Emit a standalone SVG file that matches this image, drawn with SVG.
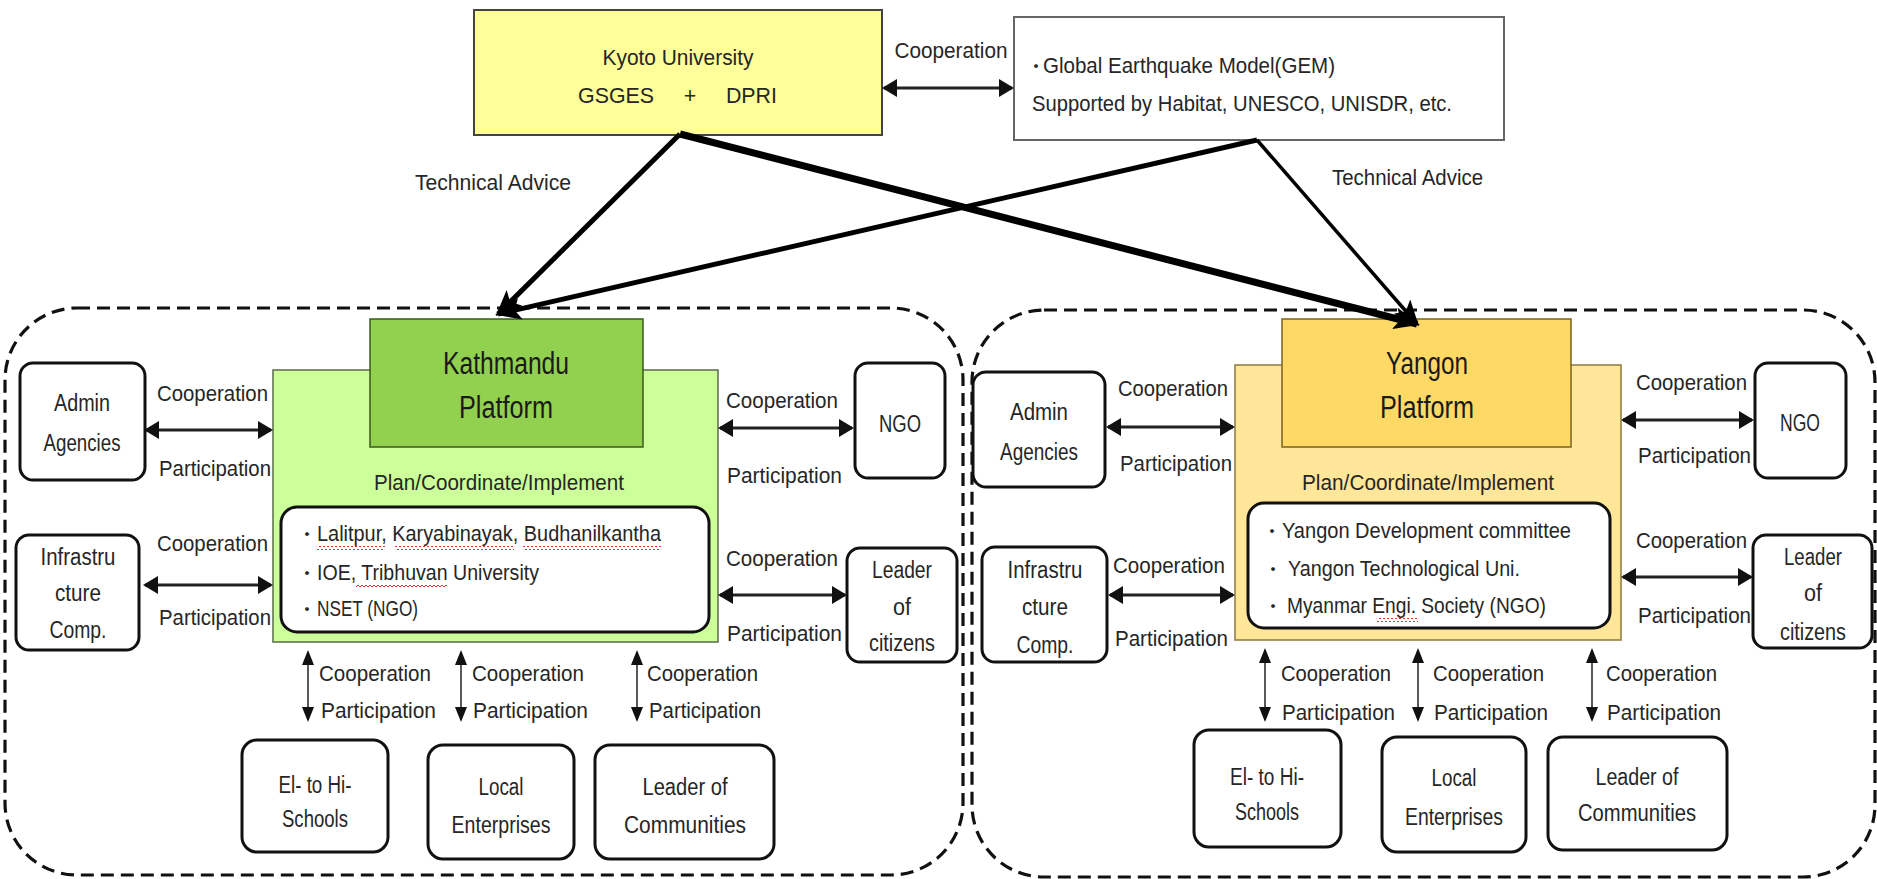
<svg xmlns="http://www.w3.org/2000/svg" width="1877" height="879" viewBox="0 0 1877 879">
<style>
.t{font-family:"Liberation Sans Narrow","Liberation Sans",Arial,"Noto Sans CJK JP",sans-serif;font-size:22px;fill:#262626;dominant-baseline:central}
.m{text-anchor:middle}
.n{font-size:23px}
.h{font-size:31px;fill:#1a1a1a}
.b{font-family:"Noto Sans CJK JP",sans-serif;font-size:18px;fill:#262626;dominant-baseline:central;text-anchor:middle}
.node{fill:#fff;stroke:#111;stroke-width:3}
.dash{fill:none;stroke:#111;stroke-width:3.2;stroke-dasharray:13 7}
.ha{stroke:#222;stroke-width:3;fill:none;marker-start:url(#hh);marker-end:url(#hh)}
.va{stroke:#222;stroke-width:1.5;fill:none;marker-start:url(#vh);marker-end:url(#vh)}
.big{stroke:#000;fill:none;marker-end:url(#bh)}
.sq{fill:url(#sq)}
</style>
<defs>
<marker id="hh" markerUnits="userSpaceOnUse" markerWidth="15" markerHeight="18" refX="13" refY="9" orient="auto-start-reverse"><path d="M0,0 L15,9 L0,18 z" fill="#111"/></marker>
<marker id="vh" markerUnits="userSpaceOnUse" markerWidth="15" markerHeight="12" refX="13" refY="6" orient="auto-start-reverse"><path d="M0,0 L15,6 L0,12 z" fill="#111"/></marker>
<marker id="bh" markerUnits="userSpaceOnUse" markerWidth="26" markerHeight="22" refX="23" refY="11" orient="auto"><path d="M0,0 L26,11 L0,22 L6,11 z" fill="#000"/></marker>
<pattern id="sq" width="4" height="4" patternUnits="userSpaceOnUse"><path d="M0,3 L2,1 L4,3" fill="none" stroke="#e03030" stroke-width="1"/></pattern>
</defs>
<rect width="1877" height="879" fill="#fff"/>

<g id="group-kathmandu-area"><rect class="dash" x="5" y="308" width="958" height="567" rx="72"/></g>
<g id="group-yangon-area"><rect class="dash" x="972" y="310" width="903" height="567" rx="72"/></g>

<g id="kyoto">
<rect x="474" y="10" width="408" height="125" fill="#FFFF99" stroke="#444" stroke-width="2"/>
<text class="t m" x="678" y="57" textLength="151" lengthAdjust="spacingAndGlyphs">Kyoto University</text>
<text class="t" x="578" y="95" textLength="199" lengthAdjust="spacingAndGlyphs" xml:space="preserve">GSGES     +     DPRI</text>
</g>

<g id="gem">
<rect x="1014" y="17" width="490" height="123" fill="#fff" stroke="#666" stroke-width="2"/>
<text class="b" x="1036" y="65">・</text>
<text class="t" x="1043" y="65" textLength="292" lengthAdjust="spacingAndGlyphs">Global Earthquake Model(GEM)</text>
<text class="t" x="1032" y="103" textLength="420" lengthAdjust="spacingAndGlyphs">Supported by Habitat, UNESCO, UNISDR, etc.</text>
</g>

<g id="kathmandu-platform">
<rect x="273" y="370" width="445" height="272" fill="#CCFF99" stroke="#5b6b4a" stroke-width="1.5"/>
<rect x="370" y="319" width="273" height="128" fill="#92D050" stroke="#3d5a1f" stroke-width="1.5"/>
<text class="t m h" x="506" y="363" textLength="126" lengthAdjust="spacingAndGlyphs">Kathmandu</text>
<text class="t m h" x="506" y="407" textLength="94" lengthAdjust="spacingAndGlyphs">Platform</text>
<text class="t m" x="499" y="482" textLength="250" lengthAdjust="spacingAndGlyphs">Plan/Coordinate/Implement</text>
<rect class="node" x="281" y="507" width="428" height="125" rx="16"/>
<text class="b" x="307" y="533">・</text>
<text class="t" x="317" y="533" textLength="344" lengthAdjust="spacingAndGlyphs">Lalitpur, Karyabinayak, Budhanilkantha</text>
<text class="b" x="307" y="572">・</text>
<text class="t" x="317" y="572" textLength="222" lengthAdjust="spacingAndGlyphs">IOE, Tribhuvan University</text>
<text class="b" x="307" y="608">・</text>
<text class="t" x="317" y="608" textLength="101" lengthAdjust="spacingAndGlyphs">NSET (NGO)</text>
<rect class="sq" x="317" y="546" width="68" height="4"/>
<rect class="sq" x="395" y="546" width="119" height="4"/>
<rect class="sq" x="523" y="546" width="138" height="4"/>
<rect class="sq" x="356" y="585" width="91" height="4"/>
</g>

<g id="yangon-platform">
<rect x="1235" y="365" width="386" height="275" fill="#FFE699" stroke="#8a7a40" stroke-width="1.5"/>
<rect x="1282" y="319" width="289" height="128" fill="#FFD966" stroke="#7a6220" stroke-width="1.5"/>
<text class="t m h" x="1427" y="363" textLength="82" lengthAdjust="spacingAndGlyphs">Yangon</text>
<text class="t m h" x="1427" y="407" textLength="94" lengthAdjust="spacingAndGlyphs">Platform</text>
<text class="t m" x="1428" y="482" textLength="252" lengthAdjust="spacingAndGlyphs">Plan/Coordinate/Implement</text>
<rect class="node" x="1248" y="503" width="362" height="125" rx="16"/>
<text class="b" x="1272" y="530">・</text>
<text class="t" x="1282" y="530" textLength="289" lengthAdjust="spacingAndGlyphs">Yangon Development committee</text>
<text class="b" x="1273" y="568">・</text>
<text class="t" x="1288" y="568" textLength="232" lengthAdjust="spacingAndGlyphs">Yangon Technological Uni.</text>
<text class="b" x="1273" y="605">・</text>
<text class="t" x="1287" y="605" textLength="259" lengthAdjust="spacingAndGlyphs">Myanmar Engi. Society (NGO)</text>
<rect class="sq" x="1377" y="618" width="41" height="4"/>
</g>

<g id="k-admin"><rect class="node" x="20" y="363" width="125" height="117" rx="13"/>
<text class="t m n" x="82" y="403" textLength="56" lengthAdjust="spacingAndGlyphs">Admin</text>
<text class="t m n" x="82" y="443" textLength="77" lengthAdjust="spacingAndGlyphs">Agencies</text></g>
<g id="k-infra"><rect class="node" x="16" y="535" width="123" height="115" rx="13"/>
<text class="t m n" x="78" y="557" textLength="75" lengthAdjust="spacingAndGlyphs">Infrastru</text>
<text class="t m n" x="78" y="593" textLength="46" lengthAdjust="spacingAndGlyphs">cture</text>
<text class="t m n" x="78" y="630" textLength="57" lengthAdjust="spacingAndGlyphs">Comp.</text></g>
<g id="k-ngo"><rect class="node" x="855" y="363" width="90" height="115" rx="13"/>
<text class="t m n" x="900" y="424" textLength="42" lengthAdjust="spacingAndGlyphs">NGO</text></g>
<g id="k-leader-citizens"><rect class="node" x="847" y="548" width="110" height="114" rx="13"/>
<text class="t m n" x="902" y="570" textLength="60" lengthAdjust="spacingAndGlyphs">Leader</text>
<text class="t m n" x="902" y="607" textLength="18" lengthAdjust="spacingAndGlyphs">of</text>
<text class="t m n" x="902" y="643" textLength="66" lengthAdjust="spacingAndGlyphs">citizens</text></g>
<g id="k-schools"><rect class="node" x="242" y="740" width="146" height="112" rx="15"/>
<text class="t m n" x="315" y="785" textLength="73" lengthAdjust="spacingAndGlyphs">El- to Hi-</text>
<text class="t m n" x="315" y="819" textLength="66" lengthAdjust="spacingAndGlyphs">Schools</text></g>
<g id="k-local"><rect class="node" x="428" y="745" width="146" height="114" rx="15"/>
<text class="t m n" x="501" y="787" textLength="45" lengthAdjust="spacingAndGlyphs">Local</text>
<text class="t m n" x="501" y="825" textLength="99" lengthAdjust="spacingAndGlyphs">Enterprises</text></g>
<g id="k-communities"><rect class="node" x="595" y="745" width="179" height="114" rx="15"/>
<text class="t m n" x="685" y="787" textLength="85" lengthAdjust="spacingAndGlyphs">Leader of</text>
<text class="t m n" x="685" y="825" textLength="122" lengthAdjust="spacingAndGlyphs">Communities</text></g>

<g id="y-admin"><rect class="node" x="973" y="372" width="132" height="115" rx="13"/>
<text class="t m n" x="1039" y="412" textLength="58" lengthAdjust="spacingAndGlyphs">Admin</text>
<text class="t m n" x="1039" y="452" textLength="78" lengthAdjust="spacingAndGlyphs">Agencies</text></g>
<g id="y-infra"><rect class="node" x="982" y="547" width="125" height="115" rx="13"/>
<text class="t m n" x="1045" y="570" textLength="75" lengthAdjust="spacingAndGlyphs">Infrastru</text>
<text class="t m n" x="1045" y="607" textLength="46" lengthAdjust="spacingAndGlyphs">cture</text>
<text class="t m n" x="1045" y="645" textLength="57" lengthAdjust="spacingAndGlyphs">Comp.</text></g>
<g id="y-ngo"><rect class="node" x="1755" y="363" width="91" height="115" rx="13"/>
<text class="t m n" x="1800" y="423" textLength="40" lengthAdjust="spacingAndGlyphs">NGO</text></g>
<g id="y-leader-citizens"><rect class="node" x="1753" y="535" width="119" height="113" rx="13"/>
<text class="t m n" x="1813" y="557" textLength="58" lengthAdjust="spacingAndGlyphs">Leader</text>
<text class="t m n" x="1813" y="593" textLength="18" lengthAdjust="spacingAndGlyphs">of</text>
<text class="t m n" x="1813" y="632" textLength="66" lengthAdjust="spacingAndGlyphs">citizens</text></g>
<g id="y-schools"><rect class="node" x="1194" y="730" width="147" height="117" rx="15"/>
<text class="t m n" x="1267" y="777" textLength="74" lengthAdjust="spacingAndGlyphs">El- to Hi-</text>
<text class="t m n" x="1267" y="812" textLength="64" lengthAdjust="spacingAndGlyphs">Schools</text></g>
<g id="y-local"><rect class="node" x="1382" y="737" width="144" height="115" rx="15"/>
<text class="t m n" x="1454" y="778" textLength="45" lengthAdjust="spacingAndGlyphs">Local</text>
<text class="t m n" x="1454" y="817" textLength="98" lengthAdjust="spacingAndGlyphs">Enterprises</text></g>
<g id="y-communities"><rect class="node" x="1548" y="737" width="179" height="113" rx="15"/>
<text class="t m n" x="1637" y="777" textLength="83" lengthAdjust="spacingAndGlyphs">Leader of</text>
<text class="t m n" x="1637" y="813" textLength="118" lengthAdjust="spacingAndGlyphs">Communities</text></g>

<g id="connectors">
<line class="ha" x1="884" y1="88" x2="1012" y2="88"/>
<path class="big" stroke-width="7" d="M680,134 L1417,324"/>
<path class="big" stroke-width="5" d="M680,134 L498,314"/>
<path class="big" stroke-width="5" d="M1257,140 L498,314"/>
<path class="big" stroke-width="3.5" d="M1257,140 L1417,324"/>

<line class="ha" x1="146" y1="430" x2="271" y2="430"/>
<line class="ha" x1="145" y1="585" x2="271" y2="585"/>
<line class="ha" x1="720" y1="428" x2="852" y2="428"/>
<line class="ha" x1="720" y1="595" x2="845" y2="595"/>
<line class="va" x1="308" y1="652" x2="308" y2="720"/>
<line class="va" x1="461" y1="652" x2="461" y2="720"/>
<line class="va" x1="637" y1="652" x2="637" y2="720"/>

<line class="ha" x1="1108" y1="427" x2="1233" y2="427"/>
<line class="ha" x1="1110" y1="595" x2="1233" y2="595"/>
<line class="ha" x1="1623" y1="420" x2="1752" y2="420"/>
<line class="ha" x1="1623" y1="577" x2="1751" y2="577"/>
<line class="va" x1="1265" y1="650" x2="1265" y2="720"/>
<line class="va" x1="1418" y1="650" x2="1418" y2="720"/>
<line class="va" x1="1592" y1="650" x2="1592" y2="720"/>
</g>

<g id="labels">
<text class="t m" x="951" y="50" textLength="113" lengthAdjust="spacingAndGlyphs">Cooperation</text>
<text class="t" x="415" y="182" textLength="156" lengthAdjust="spacingAndGlyphs">Technical Advice</text>
<text class="t" x="1332" y="177" textLength="151" lengthAdjust="spacingAndGlyphs">Technical Advice</text>

<text class="t" x="157" y="393" textLength="111" lengthAdjust="spacingAndGlyphs">Cooperation</text>
<text class="t" x="159" y="468" textLength="112" lengthAdjust="spacingAndGlyphs">Participation</text>
<text class="t" x="157" y="543" textLength="111" lengthAdjust="spacingAndGlyphs">Cooperation</text>
<text class="t" x="159" y="617" textLength="112" lengthAdjust="spacingAndGlyphs">Participation</text>
<text class="t" x="726" y="400" textLength="112" lengthAdjust="spacingAndGlyphs">Cooperation</text>
<text class="t" x="727" y="475" textLength="115" lengthAdjust="spacingAndGlyphs">Participation</text>
<text class="t" x="726" y="558" textLength="112" lengthAdjust="spacingAndGlyphs">Cooperation</text>
<text class="t" x="727" y="633" textLength="115" lengthAdjust="spacingAndGlyphs">Participation</text>
<text class="t" x="319" y="673" textLength="112" lengthAdjust="spacingAndGlyphs">Cooperation</text>
<text class="t" x="321" y="710" textLength="115" lengthAdjust="spacingAndGlyphs">Participation</text>
<text class="t" x="472" y="673" textLength="112" lengthAdjust="spacingAndGlyphs">Cooperation</text>
<text class="t" x="473" y="710" textLength="115" lengthAdjust="spacingAndGlyphs">Participation</text>
<text class="t" x="647" y="673" textLength="111" lengthAdjust="spacingAndGlyphs">Cooperation</text>
<text class="t" x="649" y="710" textLength="112" lengthAdjust="spacingAndGlyphs">Participation</text>

<text class="t" x="1118" y="388" textLength="110" lengthAdjust="spacingAndGlyphs">Cooperation</text>
<text class="t" x="1120" y="463" textLength="112" lengthAdjust="spacingAndGlyphs">Participation</text>
<text class="t" x="1113" y="565" textLength="112" lengthAdjust="spacingAndGlyphs">Cooperation</text>
<text class="t" x="1115" y="638" textLength="113" lengthAdjust="spacingAndGlyphs">Participation</text>
<text class="t" x="1636" y="382" textLength="111" lengthAdjust="spacingAndGlyphs">Cooperation</text>
<text class="t" x="1638" y="455" textLength="113" lengthAdjust="spacingAndGlyphs">Participation</text>
<text class="t" x="1636" y="540" textLength="111" lengthAdjust="spacingAndGlyphs">Cooperation</text>
<text class="t" x="1638" y="615" textLength="113" lengthAdjust="spacingAndGlyphs">Participation</text>
<text class="t" x="1281" y="673" textLength="110" lengthAdjust="spacingAndGlyphs">Cooperation</text>
<text class="t" x="1282" y="712" textLength="113" lengthAdjust="spacingAndGlyphs">Participation</text>
<text class="t" x="1433" y="673" textLength="111" lengthAdjust="spacingAndGlyphs">Cooperation</text>
<text class="t" x="1434" y="712" textLength="114" lengthAdjust="spacingAndGlyphs">Participation</text>
<text class="t" x="1606" y="673" textLength="111" lengthAdjust="spacingAndGlyphs">Cooperation</text>
<text class="t" x="1607" y="712" textLength="114" lengthAdjust="spacingAndGlyphs">Participation</text>
</g>
</svg>
